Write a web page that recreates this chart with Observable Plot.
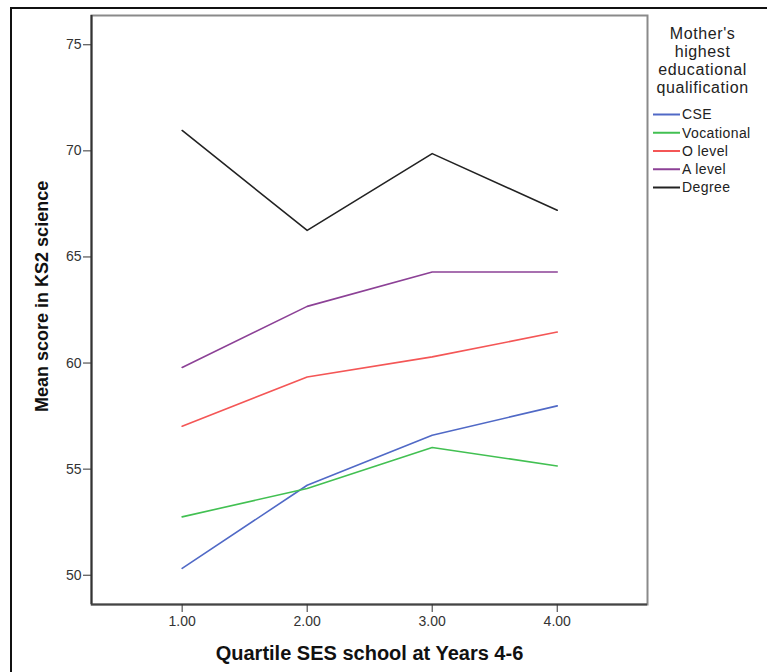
<!DOCTYPE html>
<html>
<head>
<meta charset="utf-8">
<script src="https://cdn.jsdelivr.net/npm/d3@7"></script>
<script src="https://cdn.jsdelivr.net/npm/@observablehq/plot@0.6"></script>
<style>
  html, body { margin: 0; padding: 0; background: #fff; overflow: hidden; }
  #wrap { position: relative; width: 767px; height: 672px; }
  #outer { position: absolute; left: 10px; top: 7px; width: 800px; height: 700px;
           border-left: 2px solid #111; border-top: 2px solid #111; pointer-events: none; }
</style>
</head>
<body>
<div id="wrap"><div id="outer"></div></div>
<script>
// ---- data ----
const quartiles = [1, 2, 3, 4];
const groups = ["CSE", "Vocational", "O level", "A level", "Degree"];
const colors = ["#5069c6", "#42c052", "#f45656", "#8c4196", "#222222"];
const cse        = [50.32, 54.24, 56.60, 57.98];
const vocational = [52.75, 54.09, 56.02, 55.15];
const oLevel     = [57.02, 59.34, 60.29, 61.46];
const aLevel     = [59.79, 62.67, 64.29, 64.29];
const degree     = [70.96, 66.25, 69.87, 67.20];
const xTicks = [1, 2, 3, 4];
const yTicks = [50, 55, 60, 65, 70, 75];
const xDomain = [0.275, 4.722];
const yDomain = [48.62, 76.38];
const xLabel = "Quartile SES school at Years 4-6";
const yLabel = "Mean score in KS2 science";
const legendTitle = ["Mother's", "highest", "educational", "qualification"];

const seriesValues = [cse, vocational, oLevel, aLevel, degree];
const data = [];
groups.forEach((g, i) => quartiles.forEach((q, j) => data.push({group: g, q, score: seriesValues[i][j]})));

const font = "'Liberation Sans', Arial, Helvetica, sans-serif";

const chart = Plot.plot({
  width: 767, height: 672,
  marginLeft: 91, marginRight: 120, marginTop: 15, marginBottom: 68,
  style: {fontFamily: font, background: "white", color: "#333"},
  x: {domain: xDomain},
  y: {domain: yDomain},
  color: {domain: groups, range: colors},
  marks: [
    Plot.frame({stroke: "#8a8a8a", strokeWidth: 2}),
    Plot.ruleX([xDomain[0]], {stroke: "#333", strokeWidth: 2}),
    Plot.ruleY([yDomain[0]], {stroke: "#444", strokeWidth: 2}),
    Plot.axisX({ticks: xTicks, tickFormat: d => d.toFixed(2), tickSize: 8, tickPadding: 4,
                fontSize: 14, label: null, color: "#333"}),
    Plot.axisY({ticks: yTicks, tickSize: 8, tickPadding: 2, fontSize: 14, label: null, color: "#333"}),
    Plot.line(data, {x: "q", y: "score", z: "group", stroke: "group", strokeWidth: 1.6}),
    Plot.text([xLabel], {frameAnchor: "bottom", textAnchor: "middle", lineAnchor: "middle",
                         dy: 48.7, fontSize: 20, fontWeight: "bold", fill: "#111"}),
    Plot.text([yLabel], {frameAnchor: "left", textAnchor: "middle", lineAnchor: "middle",
                         rotate: -90, dx: -49.3, dy: -13.6, fontSize: 18, fontWeight: "bold", fill: "#111"})
  ]
});

const svg = d3.select(chart);
// tick label size
svg.selectAll('g[aria-label="x-axis tick label"], g[aria-label="y-axis tick label"]')
  .attr("font-size", 14);

// legend
const lg = svg.append("g").attr("font-family", font).attr("fill", "#222");
legendTitle.forEach((t, i) => {
  lg.append("text").attr("x", 702.6).attr("y", 33 + i * 18).attr("dy", "0.35em")
    .attr("text-anchor", "middle").attr("font-size", 16).attr("letter-spacing", "0.6px").text(t);
});
groups.forEach((g, i) => {
  const y = 114.5 + i * 18.25;
  lg.append("line").attr("x1", 653).attr("x2", 680).attr("y1", y).attr("y2", y)
    .attr("stroke", colors[i]).attr("stroke-width", 2);
  lg.append("text").attr("x", 682).attr("y", y).attr("dy", "0.35em").attr("text-anchor", "start")
    .attr("font-size", 14).attr("letter-spacing", "0.4px").text(g);
});

document.getElementById("wrap").prepend(chart);
</script>
</body>
</html>
